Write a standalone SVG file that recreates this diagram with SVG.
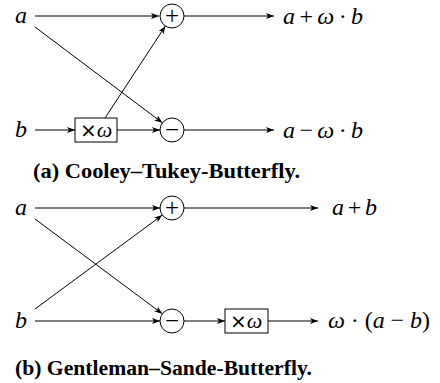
<svg xmlns="http://www.w3.org/2000/svg" width="440" height="383" viewBox="0 0 440 383">
<style>
.ln{stroke:#000;stroke-width:1;fill:none}
.ar{stroke:#000;stroke-width:1;fill:none;marker-end:url(#ah)}
.nd{stroke:#000;stroke-width:1;fill:#fff}
.m{font-family:"Liberation Serif","DejaVu Serif",serif;font-style:italic;font-size:24px;fill:#000}
.op{font-family:"Liberation Serif","DejaVu Serif",serif;font-size:25px;fill:#000;text-anchor:middle}
.cap{font-family:"Liberation Serif","DejaVu Serif",serif;font-weight:bold;font-size:22px;fill:#000}
.bx{font-family:"DejaVu Sans","Liberation Sans",sans-serif;font-size:20px;fill:#000}
</style>
<defs>
<marker id="ah" viewBox="0 0 8 6" refX="8" refY="3" markerWidth="8" markerHeight="6" markerUnits="userSpaceOnUse" orient="auto">
<path d="M0,0 L8,3 L0,6 L2,3 Z" fill="#000"/>
</marker>
</defs>

<g id="connectors">
<line class="ar" x1="35" y1="16" x2="159" y2="16"/>
<line class="ar" x1="35" y1="27" x2="162.4" y2="122.8"/>
<line class="ar" x1="35" y1="130" x2="75" y2="130"/>
<line class="ar" x1="117" y1="130" x2="160" y2="130"/>
<line class="ar" x1="105" y1="118" x2="165.4" y2="26"/>
<line class="ar" x1="184" y1="16" x2="274" y2="16"/>
<line class="ar" x1="184" y1="130" x2="274" y2="130"/>
<line class="ar" x1="35" y1="208" x2="160" y2="208"/>
<line class="ar" x1="35" y1="219" x2="162.4" y2="313.8"/>
<line class="ar" x1="35" y1="309" x2="162.3" y2="215.1"/>
<line class="ar" x1="35" y1="321" x2="160" y2="321"/>
<line class="ar" x1="184" y1="321" x2="225" y2="321"/>
<line class="ar" x1="268" y1="321" x2="318" y2="321"/>
<line class="ar" x1="184" y1="208" x2="318" y2="208"/>
</g>

<g id="a1"><text class="m" x="15" y="23">a</text></g>
<g id="b1"><text class="m" x="15" y="137">b</text></g>
<g id="plus1"><circle class="nd" cx="172" cy="16" r="12"/><text class="op" x="172" y="23.5">+</text></g>
<g id="minus1"><circle class="nd" cx="172" cy="130" r="12"/><text class="op" x="172" y="137.5">−</text></g>
<g id="mul1"><rect class="nd" x="75" y="118" width="42" height="24"/><text class="bx" x="80" y="137">×<tspan class="m" style="font-size:22px">ω</tspan></text></g>
<g id="out1a"><text class="m" x="283" y="24" textLength="80" lengthAdjust="spacing">a <tspan font-style="normal">+</tspan> ω <tspan font-style="normal">·</tspan> b</text></g>
<g id="out1b"><text class="m" x="283" y="138" textLength="80" lengthAdjust="spacing">a <tspan font-style="normal">−</tspan> ω <tspan font-style="normal">·</tspan> b</text></g>
<text class="cap" x="33" y="178" textLength="267" lengthAdjust="spacingAndGlyphs">(a) Cooley–Tukey-Butterfly.</text>

<g id="a2"><text class="m" x="15" y="215">a</text></g>
<g id="b2"><text class="m" x="15" y="328">b</text></g>
<g id="plus2"><circle class="nd" cx="172" cy="208" r="12"/><text class="op" x="172" y="215.5">+</text></g>
<g id="minus2"><circle class="nd" cx="172" cy="321" r="12"/><text class="op" x="172" y="328.5">−</text></g>
<g id="mul2"><rect class="nd" x="225" y="309" width="43" height="24"/><text class="bx" x="230" y="328">×<tspan class="m" style="font-size:22px">ω</tspan></text></g>
<g id="out2a"><text class="m" x="332" y="215" textLength="45" lengthAdjust="spacing">a <tspan font-style="normal">+</tspan> b</text></g>
<g id="out2b"><text class="m" x="328" y="328" textLength="102" lengthAdjust="spacing">ω <tspan font-style="normal">·</tspan> <tspan font-style="normal">(</tspan>a <tspan font-style="normal">−</tspan> b<tspan font-style="normal">)</tspan></text></g>
<text class="cap" x="15" y="375" textLength="297" lengthAdjust="spacingAndGlyphs">(b) Gentleman–Sande-Butterfly.</text>
</svg>
